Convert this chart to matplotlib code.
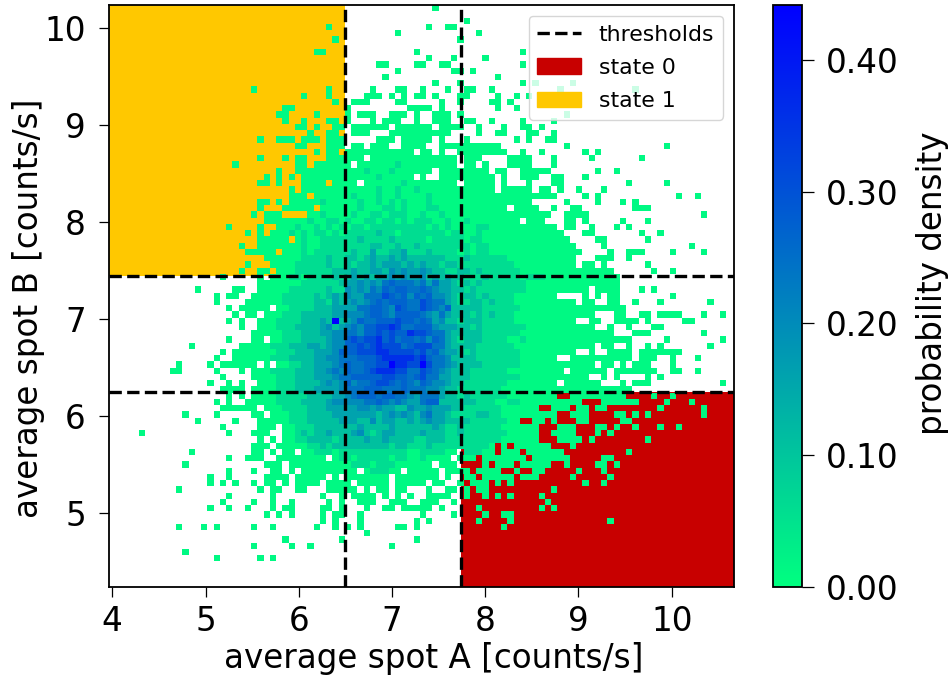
import numpy as np
import matplotlib
matplotlib.use('Agg')
import matplotlib.pyplot as plt
from matplotlib.patches import Patch

# thresholds and state regions
x_thresholds = [6.5, 7.735]
y_thresholds = [7.445, 6.25]
x_limits = [3.968, 10.668]
y_limits = [4.243, 10.24]
x_start = 4.013
y_top = 10.238
x_step = 0.06706
y_step = 0.06443
n_cols = 100
n_rows = 93
vmax = 0.442

# histogram cells, top row first
# each item is "first column:levels", level 0 is the faintest bin, 9 the peak
row_cells = [
    "51:0", "", "56:0", "34:0 50:0 53:00", "45:0 58:0", "35:0 55:0", "",
    "32:00 48:0 65:0", "50:0 54:0 59:0", "42:00 48:00 52:00 65:0",
    "45:0 54:00 57:0", "43:0 61:0", "51:0 55:0 65:0 67:0 73:0",
    "22:0 34:0 41:0 45:00 49:0 53:0 56:00 60:0 71:0 83:0",
    "30:0 34:0 40:000 44:0 46:0 48:00 51:0 55:00 61:0 64:0 66:0",
    "35:0 38:000 45:00 52:0 55:0 60:00 63:0",
    "27:00 37:0 47:0000 52:0 61:0 64:0",
    "26:00 32:0 37:0 39:000 44:000 48:0 51:000 55:0 72:0",
    "27:0 30:0 34:00 37:0 41:0 43:000 48:0 51:000 56:00 60:0 65:0 70:0",
    "29:00 32:0 35:00 38:000000 45:0000 49:00 52:0000 58:0 62:0 65:00 68:0",
    "31:0 34:00 38:000 44:00000 49:00000 58:0 61:00 66:00 70:0",
    "23:0 26:000 30:000 34:000 42:000 46:00000 52:0 56:0 64:0 66:0 69:00",
    "29:00 34:000 38:00 41:000 46:0000 52:0000 56:000000 72:0 88:0",
    "32:0 34:00 37:00000000000 49:00 52:0 55:0000000 62:0 65:0 68:0 75:0 77:0",
    "23:0 27:0 29:00 34:000 37:000.000000000 49:000000 56:000 63:0000 70:0 76:0 84:0",
    "19:0 29:00 32:00000 37:0.000000100000 50:00000 56:00 59:0 63:0000 70:0",
    "26:0 29:00 31:000 34:000 37:000100010000 49:00 52:0000 56:0000 61:00 65:00000 77:0 80:0",
    "24:0 26:0 28:0 30:0000000 37:00000100000 49:0 52:0000 56:00000 62:0 65:000 70:00 75:0",
    "23:00 26:0 30:0000 35:00 37:00.000000100 49:000000 56:00000 62:0 66:0 70:00 82:0 88:0",
    "28:0 30:0000000 37:000001001001 49:0000000 56:00000 62:00000 68:00 71:0 74:0 78:0",
    "28:000 32:00000 37:01000100100 48:00100000 56:0000000000000 69:00 75:0 77:0 90:0 93:0",
    "23:00 26:0 28:000001000 37:00100101010 48:0010000 55:000000000000 72:0 77:0 81:0 83:0",
    "23:0 27:00000 33:0000 37:00100011010 48:0011000 55:00000000.0000 70:0 73:00 83:000",
    "22:0 24:000 31:001000 37:01001101110 48:0100100 55:000000000000000 72:0000 94:0",
    "24:0000000100110 37:10011011010 48:1110010 55:0100000000.000 72:00 75:0 81:0 85:0",
    "18:0 23:0 26:00010010101 37:01101111111 48:1101010 55:0001100000000000 72:00 76:0 80:0 82:0",
    "21:0 23:0 25:000101011010 37:11111211011 48:1111101 55:10010000000000000 75:00 84:0 87:0",
    "23:00000 29:01001111 37:11211112111 48:1101111 55:101100000000000000 77:00 85:0",
    "20:0 23:00000001001111 37:11112211211 48:2111111 55:1101100000000000000 78:0 92:0",
    "21:00 23:000 27:0001011111 37:1211311223 47:11 49:12111101011000000000000000 79:0 82:000 89:0 94:0",
    "24:00 26:00001111211 37:2212322323 47:22 49:2222111211111100000000000 77:00 79:0 82:0",
    "21:0 25:000011111211 37:2122323332 47:32 49:3221221111111110000000000 75:00 78:0 85:0",
    "20:0 23:00 26:00011111122 37:2322332434 47:33 49:4322112212111111000000000000000 86:0 89:0",
    "17:0 23:0 25:000110111121 37:232323343433 49:42323221112111110111000000000000",
    "23:00000001111112 37:334343565554 49:53533212121111111000000000 75:00 77:0000",
    "13:0 19:00 23:00000111111211 37:4343546566 47:55 49:65433221211111111000000 72:0000 77:0000 84:0 86:0",
    "16:0 18:00 22:000001111121232 37:4335557656 47:46 49:5644321221211110000000 75:0 77:0 79:00 89:0",
    "16:0 21:0 22:000001111122132 37:3434565666 47:55 49:7655321122121110000000000 75:00 79:00 83:0 87:0 95:0",
    "18:0 20:00000 26:00111122233 37:3355665476 47:55 49:7654622222111111000000000000 77:00000",
    "19:0 21:00 24:0001112222233 37:4445665466 47:66 49:5435322212121110000000000000 80:00 84:00 87:0000 94:0 97:0",
    "18:0 20:0 23:000111122232 35:92 37:3465566676 47:65 49:6534221222111110000000 71:000 76:00 80:0000 85:0 91:00",
    "20:0 23:00011122223423 37:4546677875 47:56 49:6643332212111111100000000000 79:0 82:0 86:00",
    "22:000001112223344 37:5546676766 47:87 49:7655322222111111000000000000000 83:000 94:0",
    "18:0 22:00.001112222344 37:6767786756 47:65 49:6465321222111100100000000000000000 88:0 97:0",
    "12:0 20:00000111222332344 37:6676787775 47:67 49:7755322221111110000000000000 78:00 82:0 85:0 87:0 95:0",
    "17:0 19:000 22:000011122233346 37:6677788777 47:76 49:7564332121111111000000000 76:0 79:0000 84:0000000",
    "16:0 19:0000 23:00111222233445 37:5566678888 47:87 49:8655422221111111000000 73:0000000 80:000 84:000 89:0 93:0",
    "10:0 15:0 17:000000 23:.0.00112233345 37:6556677988 47:77 49:9755432222111111000000000000 78:00 81:0 83:000 89:0",
    "9:00 16:0 20:0 22:000111122233454 37:6556788877 47:55 49:76543222111111000000000 73:00000 78:0 80:00 82:0000 86:0 89:00 93:0",
    "17:0 22:000011122233345 37:5666667766 47:56 49:7553322211111111000000000 74:00 78:0 80:0 85:0 87:0",
    "15:0 18:0 20:0 23:00011122223434 37:6455677656 47:54 49:6544322111111100000000 72:000000 81:0 83:000 97:0",
    "17:0000 22:000011122233334 37:5556665556 47:55 49:5443221111111000000000000000000000",
    "18:0 20:0 22:000011111222233 37:4566656655 47:43 49:5553221211111100000000 73:000000000 86:0 89:0",
    "16:0 18:0 21:0000011112222344 37:4445565454 47:33 49:56622222211100110000000000 78:000000 88:0 92:0",
    "17:000000 24:0001111222333 37:3344343322 47:43 49:3433322111111000000 70:000 74:00 77:00 87:0 94:0",
    "11:0 16:0 22:00 25:000111222233 37:3333323434 47:32 49:4533211112211000000000 73:000 80:00 83:0 85:0 94:0",
    "13:0 19:0 23:00000111222223 37:3322423322 47:32 49:3433222211111100 67:00 70:0 74:00 81:00",
    "17:0 23:000 27:0011122222 37:2232222322 47:22 49:2232112111111000000 71:000 77:00 80:0 83:0 87:0 90:0",
    "4:0 18:0 22:000 27:0012122322 37:2342123322 47:22 49:3222112111111100000 70:0000 77:0 79:0",
    "23:0 25:0 27:0011222212 37:2223223222 47:21 49:1222111111111000000 71:0000 76:0 85:0",
    "22:000 26:00000112122 37:2222222122 47:11 49:1211111 56:11110 62:0 64:000000 73:0",
    "12:0 22:00 25:0 27:00 30:0011101 37:1111111111 47:00 49:111100 56:11100 62:000 66:000000 82:0",
    "18:0 21:000 26:00000000 35:01 37:1011111011 47:00 49:10000 55:0 56:00 59:0000000 67:000000 78:00",
    "11:0 24:000 28:000000000 37:0111011100 47:00 49:00 52:000 59:0 61:000 65:00000 72:0 77:00 80:0",
    "18:0 22:0 25:00 28:0 30:0000000 37:00.011100 47:00 49:000 53:000 56:0 58:0000 64:0 67:00 74:0 78:0",
    "15:0 18:0 24:0000 29:00000 35:0 37:00 39:00000 45:0000 49:000 53:0 56:00 59:00000 65:000 73:0 79:0",
    "15:0 17:0 19:0 22:0 24:00 27:0 29:0000 34:000 37:0 39:00000 45:0000 49:0 51:00 55:0 57:000 61:0 63:0 75:0 78:0",
    "10:0 23:0 25:00 29:00 34:000 37:00 40:0 42:00 45:00 50:0 53:00 56:0 58:00 70:0",
    "18:0 25:0 33:0 36:0 38:0000 43:0 45:0 47:0 50:0000 56:0 59:0 61:0 63:0 68:0",
    "17:0 22:0 25:0 28:0 34:0 36:0 39:000 44:000 49:000 54:0 69:0",
    "15:0 18:0 21:0 25:0 27:00 33:00 36:0 40:0 43:00 46:000 49:00 52:0 58:0 68:0 70:0",
    "24:0 26:0 28:0 33:0 35:00 39:0 49:0 54:0 59:0 62:00",
    "33:0 35:0 39:0 48:0 50:0 58:0 63:0 79:0",
    "10:0 14:0 16:0 22:0 25:0 32:0 35:0 37:0 39:0 45:00 48:0 62:0",
    "40:0", "27:0 36:0 48:0", "22:0 28:0 31:0 44:0", "11:0", "16:0 23:0 25:0",
    "", "", "", "",
]

density_levels = [0.012, 0.06, 0.11, 0.16, 0.20, 0.24, 0.27, 0.31, 0.36, 0.44]

# decode the rows into a density grid
grid = np.zeros((n_rows, n_cols))
for r, row in enumerate(row_cells):
    for item in row.split():
        start, levels = item.split(":")
        for i, ch in enumerate(levels):
            c = int(start) + i
            if ch != "." and c < n_cols:
                grid[r, c] = density_levels[int(ch)]

x_edges = x_start + x_step * np.arange(n_cols + 1)
y_edges = y_top - y_step * np.arange(n_rows + 1)

plt.rcParams['font.size'] = 23.5

fig = plt.figure(figsize=(9.52, 6.79), dpi=100)
ax = fig.add_axes([109.3 / 952, 1 - 586.7 / 679, (734 - 109.3) / 952, (586.7 - 5) / 679])

# state regions go under the histogram
state0 = '#c80000'
state1 = '#ffc800'
ax.fill_between([x_thresholds[1], x_limits[1]], y_limits[0], y_thresholds[1], color=state0, lw=0, zorder=1)
ax.fill_between([x_limits[0], x_thresholds[0]], y_thresholds[0], y_limits[1], color=state1, lw=0, zorder=1)

mesh = ax.pcolormesh(x_edges, y_edges, np.ma.masked_equal(grid, 0), cmap='winter_r',
                     vmin=0, vmax=vmax, zorder=2)

for x in x_thresholds:
    ax.axvline(x, color='k', ls='--', lw=2.4, zorder=3)
line = None
for y in y_thresholds:
    line = ax.axhline(y, color='k', ls='--', lw=2.4, zorder=3)

ax.set_xlim(x_limits)
ax.set_ylim(y_limits)
ax.set_xticks([4, 5, 6, 7, 8, 9, 10])
ax.set_yticks([5, 6, 7, 8, 9, 10])
ax.tick_params(axis='x', width=0.9, length=7.5, labelsize=23.5, pad=5.8)
ax.tick_params(axis='y', width=0.9, length=7.5, labelsize=23.5, pad=9.4)
for s in ax.spines.values():
    s.set_linewidth(1.3)
ax.set_xlabel('average spot A [counts/s]', fontsize=23.5, labelpad=2.6, x=0.52)
ax.set_ylabel('average spot B [counts/s]', fontsize=23.5, labelpad=-0.3, y=0.479)

handles = [line, Patch(color=state0), Patch(color=state1)]
ax.legend(handles, ['thresholds', 'state 0', 'state 1'], loc='upper right', fontsize=15.8,
          labelspacing=0.6, bbox_to_anchor=(0.9825, 0.9815), borderaxespad=0)

cax = fig.add_axes([772.7 / 952, 1 - 586.7 / 679, (802.3 - 772.7) / 952, (586.7 - 5) / 679])
cb = fig.colorbar(mesh, cax=cax, format='%.2f', ticks=[0, 0.1, 0.2, 0.3, 0.4])
cb.ax.tick_params(width=0.9, length=8.6, labelsize=23.5, pad=8.4)
cb.outline.set_linewidth(1.3)
cb.set_label('probability density', fontsize=23.5, labelpad=12.5, y=0.522)

plt.savefig('out.png', dpi=100)
